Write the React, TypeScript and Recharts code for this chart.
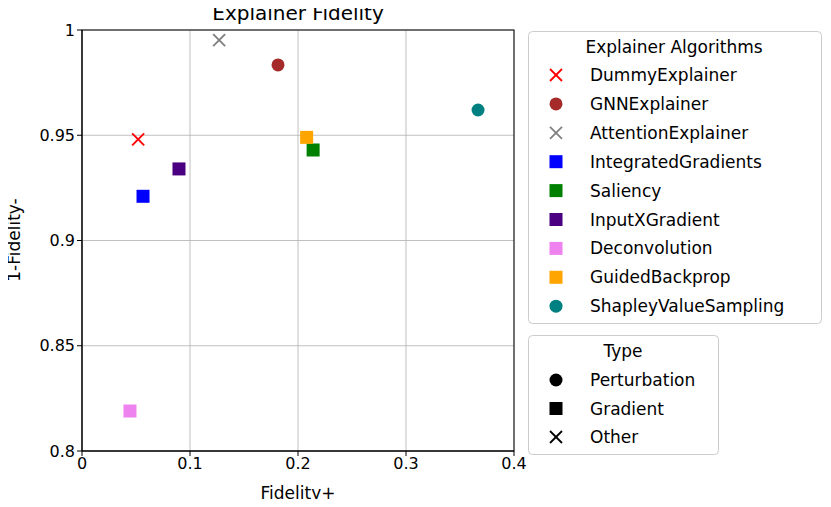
import { CartesianGrid, Scatter, ScatterChart, XAxis, YAxis } from "recharts";

const names = ["DummyExplainer", "GNNExplainer", "AttentionExplainer", "IntegratedGradients", "Saliency", "InputXGradient", "Deconvolution", "GuidedBackprop", "ShapleyValueSampling"];
const colors = ["red", "brown", "gray", "blue", "green", "indigo", "violet", "orange", "teal"];
const kinds = ["x", "o", "x", "s", "s", "s", "s", "s", "o"];
const fidPlus = [0.052, 0.1815, 0.127, 0.0565, 0.214, 0.0898, 0.0444, 0.208, 0.3667];
const fidMinus = [0.948, 0.9834, 0.9952, 0.921, 0.943, 0.934, 0.819, 0.949, 0.962];
const xTicks = [0, 0.1, 0.2, 0.3, 0.4];
const yTicks = [0.8, 0.85, 0.9, 0.95, 1];
const typeNames = ["Perturbation", "Gradient", "Other"];
const typeKinds = ["o", "s", "x"];

const FONT = "DejaVu Sans, sans-serif";

function Marker({ cx, cy, kind, color }: { cx: number; cy: number; kind: string; color: string }) {
  if (kind === "x")
    return (
      <g stroke={color} strokeWidth={1.8}>
        <line x1={cx - 6} y1={cy - 6} x2={cx + 6} y2={cy + 6} />
        <line x1={cx - 6} y1={cy + 6} x2={cx + 6} y2={cy - 6} />
      </g>
    );
  if (kind === "s") return <rect x={cx - 6.5} y={cy - 6.5} width={13} height={13} fill={color} />;
  return <circle cx={cx} cy={cy} r={6.5} fill={color} />;
}

export default function App() {
  return (
    <div style={{ position: "relative", margin: -8, width: 831, height: 507, fontFamily: FONT, background: "#fff" }}>
      <ScatterChart width={831} height={507} margin={{ top: 30, right: 317, bottom: 26, left: 22 }}>
        <CartesianGrid stroke="#b0b0b0" strokeWidth={0.8} />
        <XAxis type="number" dataKey="x" domain={[0, 0.4]} ticks={xTicks} height={30} tickSize={5}
          stroke="#000" tick={{ fontSize: 16, fill: "#000", fontFamily: FONT }} tickFormatter={(v) => String(v)} />
        <YAxis type="number" dataKey="y" domain={[0.8, 1]} ticks={yTicks} width={60} tickSize={5}
          stroke="#000" tick={{ fontSize: 16, fill: "#000", fontFamily: FONT }} tickFormatter={(v) => String(v)} />
        {names.map((n, i) => (
          <Scatter key={n} name={n} data={[{ x: fidPlus[i], y: fidMinus[i] }]} isAnimationActive={false}
            shape={(p: any) => <Marker cx={p.cx} cy={p.cy} kind={kinds[i]} color={colors[i]} />} />
        ))}
      </ScatterChart>
      <svg width={831} height={507} style={{ position: "absolute", left: 0, top: 0, pointerEvents: "none" }} fontFamily={FONT}>
        <rect x={82} y={30} width={432} height={421} fill="none" stroke="#000" strokeWidth={1} />
        <text x={298} y={20} textAnchor="middle" fontSize={20}>Explainer Fidelity</text>
        <text x={298} y={499} textAnchor="middle" fontSize={17}>Fidelity+</text>
        <text x={20} y={240} textAnchor="middle" fontSize={17} transform="rotate(-90 20 240)">1-Fidelity-</text>
        <rect x={528.5} y={31.5} width={293} height={292} rx={4} fill="#fff" stroke="#ccc" />
        <text x={674} y={53} textAnchor="middle" fontSize={17}>Explainer Algorithms</text>
        {names.map((n, i) => (
          <g key={n}>
            <Marker cx={556} cy={75 + i * 28.9} kind={kinds[i]} color={colors[i]} />
            <text x={590} y={81 + i * 28.9} fontSize={17}>{n}</text>
          </g>
        ))}
        <rect x={528.5} y={335.5} width={190} height={119} rx={4} fill="#fff" stroke="#ccc" />
        <text x={623} y={357} textAnchor="middle" fontSize={17}>Type</text>
        {typeNames.map((n, i) => (
          <g key={n}>
            <Marker cx={556} cy={380 + i * 28.5} kind={typeKinds[i]} color="#000" />
            <text x={590} y={386 + i * 28.5} fontSize={17}>{n}</text>
          </g>
        ))}
      </svg>
    </div>
  );
}
